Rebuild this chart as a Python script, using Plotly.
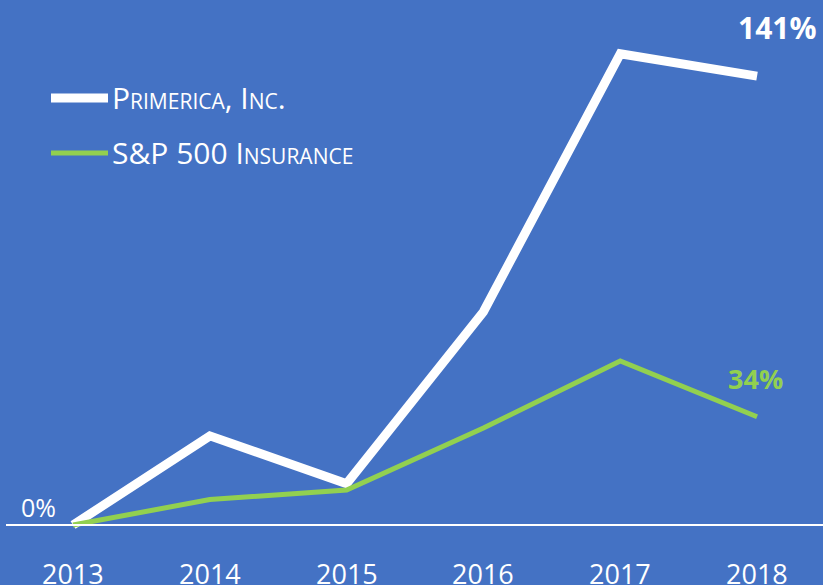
import plotly.graph_objects as go

years = [2013, 2014, 2015, 2016, 2017, 2018]
primerica = [0, 28, 13, 67, 148, 141]
sp500_ins = [0, 8, 11, 30.5, 51.5, 34]
series_names = ["Primerica, Inc.", "S&P 500 Insurance"]
year_labels = ["2013", "2014", "2015", "2016", "2017", "2018"]

BG = "#4472C4"
WHITE = "#FFFFFF"
GREEN = "#92D050"
FONT = "Open Sans"

fig = go.Figure()
fig.add_trace(go.Scatter(x=years, y=primerica, mode="lines", name=series_names[0],
                         line=dict(color=WHITE, width=9), showlegend=False))
fig.add_trace(go.Scatter(x=years, y=sp500_ins, mode="lines", name=series_names[1],
                         line=dict(color=GREEN, width=5), showlegend=False))

# baseline
fig.add_shape(type="line", xref="paper", yref="y", x0=6/823, x1=1, y0=0, y1=0,
              line=dict(color=WHITE, width=2))

# year labels
for yr, lab in zip(years, year_labels):
    fig.add_annotation(x=yr, y=-15.2, xref="x", yref="y", text=lab, showarrow=False,
                       font=dict(family=FONT, size=27, color=WHITE))

fig.add_annotation(x=2012.744, y=5.8, xref="x", yref="y", text="0%", showarrow=False,
                   font=dict(family=FONT, size=25, color=WHITE))
fig.add_annotation(x=2018.15, y=156.4, xref="x", yref="y", text="<b>141%</b>", showarrow=False,
                   font=dict(family=FONT, size=30, color=WHITE))
fig.add_annotation(x=2017.99, y=45.9, xref="x", yref="y", text="<b>34%</b>", showarrow=False,
                   font=dict(family=FONT, size=27, color=GREEN))

# legend (manual)
leg = [(series_names[0], WHITE, 9, 98), (series_names[1], GREEN, 5, 153)]
for name, col, w, py in leg:
    yp = 1 - py / 585
    fig.add_shape(type="line", xref="paper", yref="paper", x0=51/823, x1=108/823, y0=yp, y1=yp,
                  line=dict(color=col, width=w))
    fig.add_annotation(xref="paper", yref="paper", x=110/823, y=yp, xanchor="left", yanchor="middle",
                       text=name, showarrow=False,
                       font=dict(family=FONT, size=30, color=WHITE, variant="small-caps"))

fig.update_layout(
    width=823, height=585,
    margin=dict(l=0, r=0, t=0, b=0),
    paper_bgcolor=BG, plot_bgcolor=BG,
    xaxis=dict(range=[2012.466, 2018.482], visible=False, fixedrange=True),
    yaxis=dict(range=[-18.84, 164.9], visible=False, fixedrange=True),
)
fig.write_html("out.html", config={"displayModeBar": False})
with open("out.html", encoding="utf-8") as f:
    html = f.read()
html = html.replace("<head>", "<head><style>html,body{margin:0;padding:0;overflow:hidden;}</style>", 1)
with open("out.html", "w", encoding="utf-8") as f:
    f.write(html)
